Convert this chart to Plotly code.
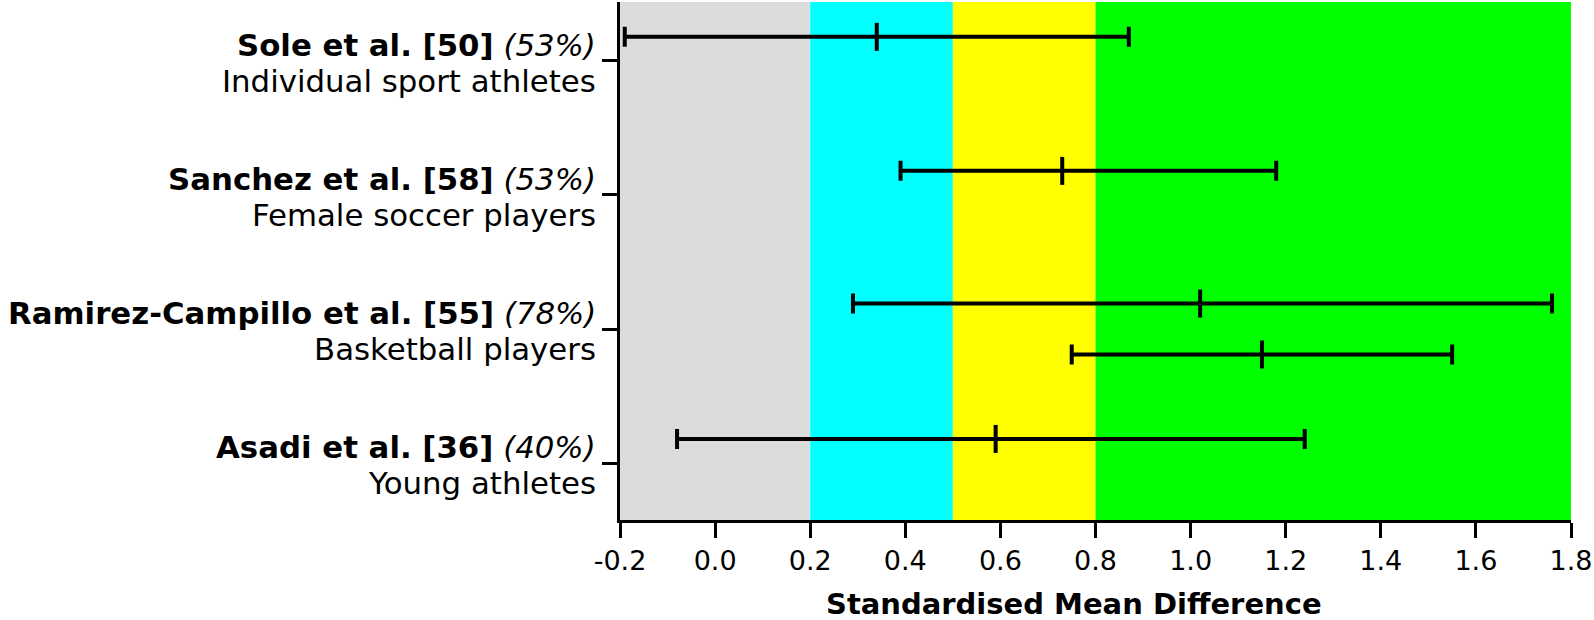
import plotly.graph_objects as go

# ---- data ----
studies = ["Sole et al. [50]", "Sanchez et al. [58]", "Ramirez-Campillo et al. [55]", "Asadi et al. [36]"]
quality = ["(53%)", "(53%)", "(78%)", "(40%)"]
populations = ["Individual sport athletes", "Female soccer players", "Basketball players", "Young athletes"]

effect_study = [0, 1, 2, 2, 3]
smd = [0.34, 0.73, 1.02, 1.15, 0.59]
ci_low = [-0.19, 0.39, 0.29, 0.75, -0.08]
ci_high = [0.87, 1.18, 1.76, 1.55, 1.24]

band_edges = [-0.2, 0.2, 0.5, 0.8, 1.8]
band_colors = ["#DCDCDC", "#00FFFF", "#FFFF00", "#00FF00"]

x_ticks = [-0.2, 0.0, 0.2, 0.4, 0.6, 0.8, 1.0, 1.2, 1.4, 1.6, 1.8]
x_title = "Standardised Mean Difference"

# ---- layout helpers ----
row_offset = [0.18, 0.18, 0.19, -0.19, 0.18]
n = len(studies)
study_y = [n - i for i in range(n)]
ys = [study_y[s] + o for s, o in zip(effect_study, row_offset)]

FONT = "DejaVu Sans"
LABEL_SIZE = 30.8

fig = go.Figure()

fig.add_trace(go.Scatter(
    x=smd, y=ys, mode="markers",
    marker=dict(symbol="line-ns", size=20, line=dict(width=4, color="black"), color="black"),
    error_x=dict(type="data", symmetric=False,
                 array=[h - m for h, m in zip(ci_high, smd)],
                 arrayminus=[m - l for m, l in zip(smd, ci_low)],
                 color="black", thickness=4, width=10),
    showlegend=False, hoverinfo="x", cliponaxis=False,
))

shapes = []
for i, c in enumerate(band_colors):
    shapes.append(dict(type="rect", xref="x", yref="paper",
                       x0=band_edges[i], x1=band_edges[i + 1], y0=0, y1=1,
                       fillcolor=c, line=dict(width=0), layer="below"))

annotations = []
label_x = -0.023
for s, q, p, yv in zip(studies, quality, populations, study_y):
    annotations.append(dict(text=f"<b>{s}</b> <i>{q}</i>", xref="paper", yref="y",
                            x=label_x, y=yv + 0.12, xanchor="right", yanchor="middle",
                            showarrow=False, font=dict(family=FONT, size=LABEL_SIZE, color="black")))
    annotations.append(dict(text=p, xref="paper", yref="y",
                            x=label_x, y=yv - 0.15, xanchor="right", yanchor="middle",
                            showarrow=False, font=dict(family=FONT, size=LABEL_SIZE, color="black")))

annotations.append(dict(text=f"<b>{x_title}</b>", xref="paper", yref="paper",
                        x=0.477, y=-0.162, xanchor="center", yanchor="middle",
                        showarrow=False, font=dict(family=FONT, size=29, color="black")))

fig.update_layout(
    width=1594, height=620,
    margin=dict(l=620, r=21, t=2, b=100),
    paper_bgcolor="white", plot_bgcolor="white",
    shapes=shapes,
    annotations=annotations,
    font=dict(family=FONT, color="black"),
    xaxis=dict(range=[band_edges[0], band_edges[-1]], tickvals=x_ticks,
               ticktext=[f"{v:.1f}" for v in x_ticks], ticklabeloverflow="allow",
               showgrid=False, zeroline=False, showline=True, linecolor="black", linewidth=3,
               ticks="outside", ticklen=15, tickwidth=3, tickcolor="black",
               tickfont=dict(family=FONT, size=27, color="black")),
    yaxis=dict(range=[0.575, 4.44], tickvals=study_y, showticklabels=False,
               showgrid=False, zeroline=False, showline=True, linecolor="black", linewidth=3,
               ticks="outside", ticklen=15, tickwidth=3, tickcolor="black"),
)

fig.write_html("out.html", config={"displayModeBar": False},
               post_script="document.body.style.margin='0';")
